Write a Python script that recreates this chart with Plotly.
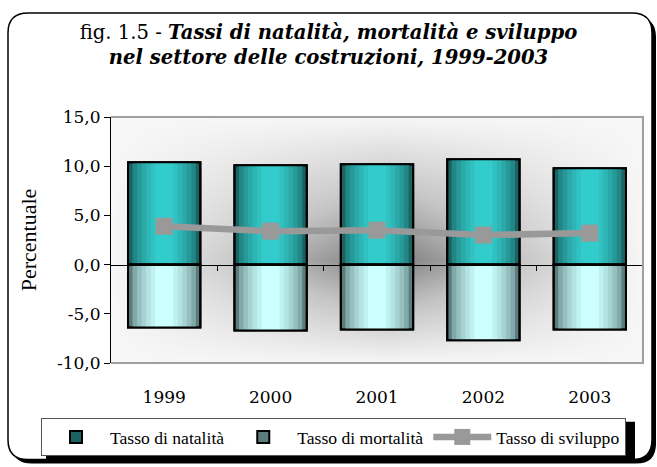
import plotly.graph_objects as go

# ── Dati ─────────────────────────────────────────────────────────────────────
ANNI = ["1999", "2000", "2001", "2002", "2003"]
NATALITA = [10.4, 10.1, 10.2, 10.7, 9.8]
MORTALITA = [-6.4, -6.7, -6.6, -7.7, -6.6]
SVILUPPO = [3.9, 3.4, 3.5, 3.0, 3.2]

Y_TICKS = [-10, -5, 0, 5, 10, 15]
Y_TICK_TEXT = ["-10,0", "-5,0", "0,0", "5,0", "10,0", "15,0"]

# ── Stile ────────────────────────────────────────────────────────────────────
W, H = 657, 467
L, R, T, B = 111, 14, 117, 103
PW, PH = W - L - R, H - T - B
BAR_W = 0.68
N_LAYERS = 8

SERIF = "Liberation Serif"
GEORGIA = "DejaVu Serif"

NAT_EDGE, NAT_MID = "#1b6262", "#33cccc"
MORT_EDGE, MORT_MID = "#5c7c7c", "#ccffff"
GRIGIO = "#999999"


def px_x(p):
    return (p - L) / PW


def px_y(p):
    return (H - B - p) / PH


def mix(c1, c2, t):
    a = [int(c1[i:i + 2], 16) for i in (1, 3, 5)]
    b = [int(c2[i:i + 2], 16) for i in (1, 3, 5)]
    return "#" + "".join(f"{round(x + (y - x) * t):02x}" for x, y in zip(a, b))


def rounded_rect(x0, y0, x1, y1, r):
    """Path (coordinate paper) di un rettangolo con angoli arrotondati, input in pixel."""
    X = px_x
    Y = px_y
    return (
        f"M {X(x0 + r)},{Y(y0)} L {X(x1 - r)},{Y(y0)} Q {X(x1)},{Y(y0)} {X(x1)},{Y(y0 + r)} "
        f"L {X(x1)},{Y(y1 - r)} Q {X(x1)},{Y(y1)} {X(x1 - r)},{Y(y1)} "
        f"L {X(x0 + r)},{Y(y1)} Q {X(x0)},{Y(y1)} {X(x0)},{Y(y1 - r)} "
        f"L {X(x0)},{Y(y0 + r)} Q {X(x0)},{Y(y0)} {X(x0 + r)},{Y(y0)} Z"
    )


def barre_sfumate(valori, nome, edge, mid):
    """Barre con sfumatura orizzontale simulata da strati concentrici."""
    tracce = []
    for i in range(N_LAYERS):
        t = min(1.0, (i / (N_LAYERS - 2)) ** 0.6)
        tracce.append(go.Bar(
            x=ANNI, y=valori,
            width=[BAR_W * (1 - i / N_LAYERS)] * len(ANNI),
            marker=dict(color=mix(edge, mid, t),
                        line=dict(color="black", width=2 if i == 0 else 0)),
            name=nome,
            showlegend=(i == 0),
            hoverinfo="skip" if i else None,
            xaxis="x2", yaxis="y2",
        ))
    tracce.append(go.Bar(
        x=ANNI, y=valori, width=[BAR_W] * len(ANNI),
        marker=dict(color="rgba(0,0,0,0)", line=dict(color="black", width=2)),
        showlegend=False, hoverinfo="skip",
        xaxis="x2", yaxis="y2",
    ))
    return tracce


fig = go.Figure()

# sfondo dell'area del grafico (sfumatura dal centro)
fig.add_trace(go.Heatmap(
    x=[0, 0.52, 1], y=[0, 0.42, 1],
    z=[[0, 0, 0], [0, 1, 0], [0, 0, 0]],
    colorscale=[[0, "#f7f7f7"], [0.5, "#c4c4c4"], [1, "#7a7a7a"]],
    zsmooth="best", showscale=False, hoverinfo="skip",
    xaxis="x", yaxis="y",
))

for tr in barre_sfumate(NATALITA, "Tasso di natalità", NAT_EDGE, NAT_MID):
    fig.add_trace(tr)
for tr in barre_sfumate(MORTALITA, "Tasso di mortalità", MORT_EDGE, MORT_MID):
    fig.add_trace(tr)

fig.add_trace(go.Scatter(
    x=ANNI, y=SVILUPPO,
    mode="lines+markers",
    line=dict(color=GRIGIO, width=6.5),
    marker=dict(symbol="square", size=17, color=GRIGIO),
    name="Tasso di sviluppo",
    xaxis="x2", yaxis="y2",
))

# asse dello zero con le tacche fra le categorie
fig.add_trace(go.Scatter(x=[None], y=[None], xaxis="x3", yaxis="y2",
                         showlegend=False, hoverinfo="skip"))

# ── Cornice ──────────────────────────────────────────────────────────────────
shapes = [
    dict(type="path", xref="paper", yref="paper", layer="below",
         path=rounded_rect(12, 16.5, 656, 465, 20),
         fillcolor="black", line=dict(width=0)),
    dict(type="path", xref="paper", yref="paper", layer="below",
         path=rounded_rect(8, 12.5, 652, 461, 20),
         fillcolor="white", line=dict(color="black", width=1.5)),
    # ombra della legenda
    dict(type="rect", xref="paper", yref="paper", layer="below",
         x0=px_x(46), x1=px_x(635), y0=px_y(461), y1=px_y(423),
         fillcolor="black", line=dict(width=0)),
    # bordo grigio dell'area del grafico
    dict(type="path", xref="paper", yref="paper", layer="above",
         path="M 0,0 L 1,0 L 1,1 L 0,1",
         line=dict(color="#a0a0a0", width=2)),
]

fig.update_layout(
    width=W, height=H,
    margin=dict(l=L, r=R, t=T, b=B),
    paper_bgcolor="white",
    plot_bgcolor="white",
    barmode="overlay",
    shapes=shapes,
    title=dict(
        text=("fig. 1.5 - <b><i>Tassi di natalità, mortalità e sviluppo</i></b><br>"
              "<b><i>nel settore delle costruzioni, 1999-2003</i></b>"),
        font=dict(family=GEORGIA, size=19.6, color="black"),
        x=0.5, xref="container", xanchor="center",
        y=1 - 39 / H, yref="container", yanchor="top",
    ),
    xaxis=dict(range=[0, 1], visible=False, fixedrange=True),
    yaxis=dict(range=[0, 1], visible=False, fixedrange=True),
    xaxis2=dict(
        overlaying="x", anchor="y2", type="category",
        range=[-0.5, 4.5], showline=False, showgrid=False, ticks="",
        tickfont=dict(family=GEORGIA, size=17, color="black"),
        ticklabelstandoff=22,
    ),
    yaxis2=dict(
        overlaying="y", side="left", range=[-10, 15],
        tickvals=Y_TICKS, ticktext=Y_TICK_TEXT,
        ticks="outside", ticklen=6, tickcolor="black",
        showline=True, linecolor="black", linewidth=1,
        showgrid=False, zeroline=False,
        tickfont=dict(family=GEORGIA, size=17, color="black"),
        title=dict(text="Percentuale", standoff=14,
                   font=dict(family=SERIF, size=22, color="black")),
    ),
    xaxis3=dict(
        overlaying="x", anchor="free", position=0.4,
        range=[-0.5, 4.5], tickvals=[0.5, 1.5, 2.5, 3.5, 4.5],
        ticks="outside", ticklen=5, tickcolor="black",
        showticklabels=False, showgrid=False, zeroline=False,
        showline=True, linecolor="black", linewidth=1,
    ),
    legend=dict(
        orientation="h",
        x=px_x(41), xanchor="left", y=px_y(418), yanchor="top",
        bgcolor="white", bordercolor="#555555", borderwidth=1,
        font=dict(family=SERIF, size=17.6, color="black"),
        itemwidth=58,
    ),
    showlegend=True,
)

fig.write_html("out.html", config={"displayModeBar": False},
               post_script="document.body.style.margin='0';")
